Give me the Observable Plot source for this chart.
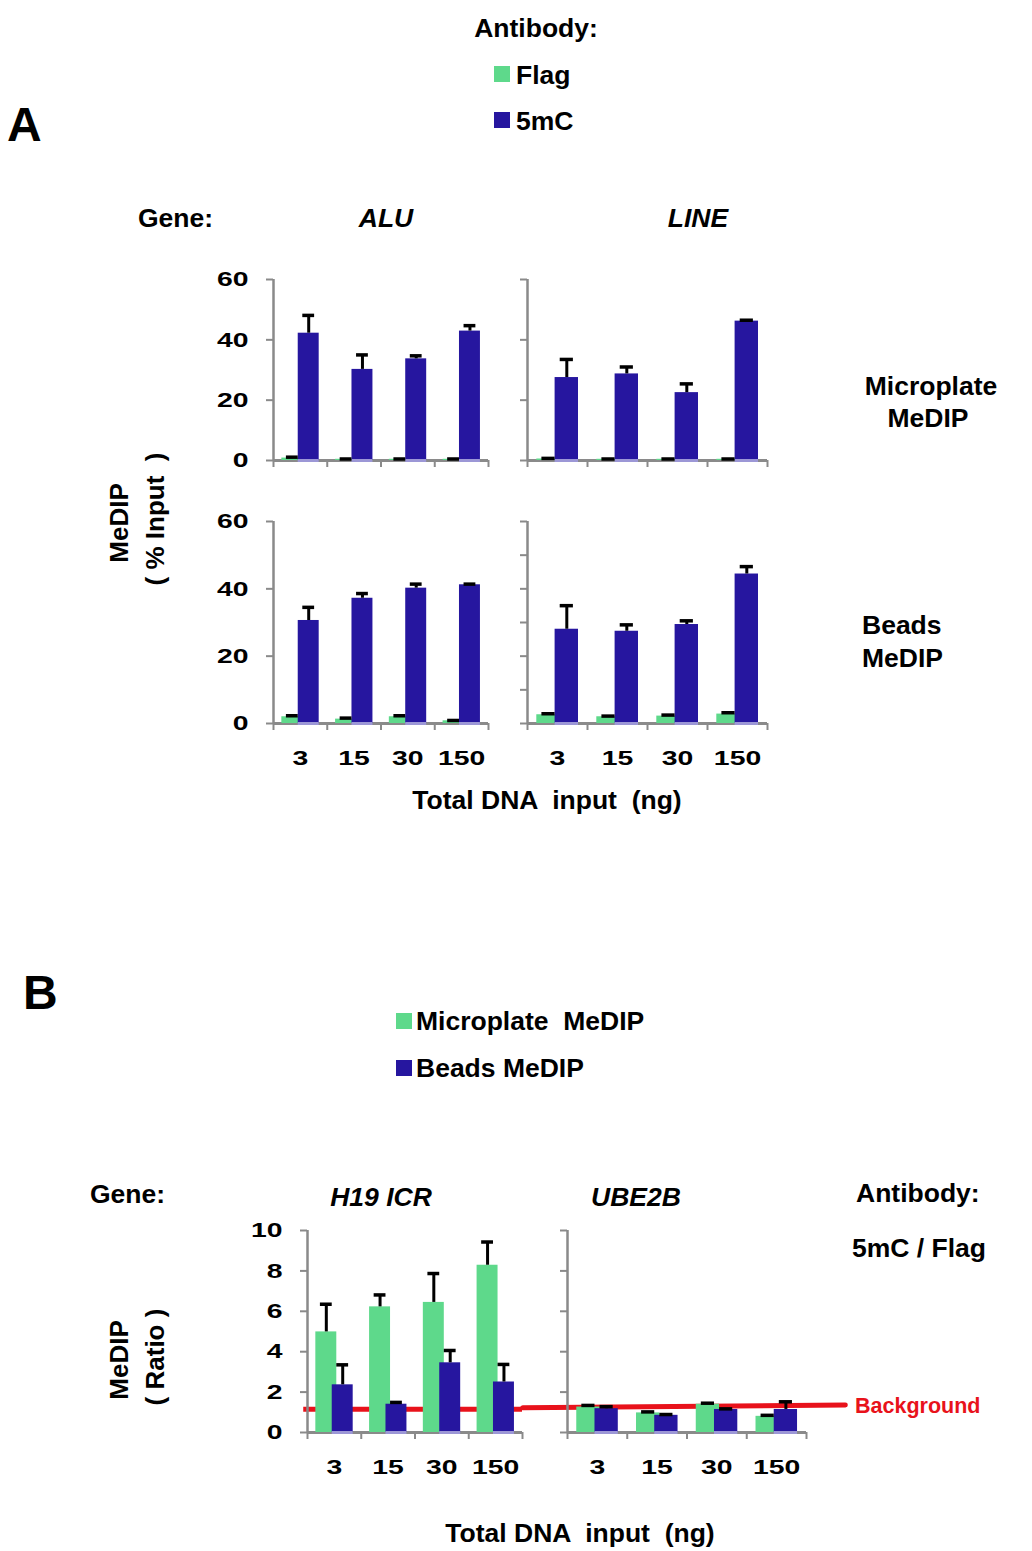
<!DOCTYPE html>
<html><head><meta charset="utf-8">
<script src="https://cdn.jsdelivr.net/npm/d3@7"></script>
<script src="https://cdn.jsdelivr.net/npm/@observablehq/plot@0.6"></script>
<style>
body{margin:0;background:#fff;}
#root{position:relative;width:1032px;height:1551px;overflow:hidden;font-family:"Liberation Sans",Arial,sans-serif;font-weight:bold;color:#000;background:#fff;}
.lbl{position:absolute;white-space:pre;line-height:1;}
.sw{position:absolute;width:16px;height:16px;}
</style></head><body><div id="root"></div>
<script>
// ---------- data ----------
const doses = ["3", "15", "30", "150"];

// Panel A: MeDIP (% input), antibody Flag vs 5mC
const aluMicroFlag     = [0.8, 0.4, 0.4, 0.4];
const aluMicroFlagErr  = [0.3, 0.1, 0.1, 0.1];
const aluMicro5mC      = [42.2, 30.2, 33.7, 42.9];
const aluMicro5mCErr   = [5.9, 4.8, 1.0, 1.8];
const lineMicroFlag    = [0.5, 0.4, 0.4, 0.4];
const lineMicroFlagErr = [0.2, 0.1, 0.1, 0.1];
const lineMicro5mC     = [27.5, 28.7, 22.5, 46.2];
const lineMicro5mCErr  = [6.0, 2.3, 2.9, 0.3];
const aluBeadsFlag     = [2.0, 1.3, 2.0, 0.8];
const aluBeadsFlagErr  = [0.3, 0.3, 0.3, 0.1];
const aluBeads5mC      = [30.6, 37.2, 40.2, 41.2];
const aluBeads5mCErr   = [3.9, 1.4, 1.2, 0.2];
const lineBeadsFlag    = [2.6, 2.0, 2.2, 2.8];
const lineBeadsFlagErr = [0.3, 0.2, 0.3, 0.4];
const lineBeads5mC     = [28.0, 27.4, 29.4, 44.4];
const lineBeads5mCErr  = [7.0, 1.9, 1.1, 2.2];

// Panel B: MeDIP ratio 5mC / Flag, Microplate vs Beads
const h19Micro       = [4.98, 6.22, 6.44, 8.28];
const h19MicroErr    = [1.37, 0.59, 1.43, 1.15];
const h19Beads       = [2.36, 1.40, 3.45, 2.50];
const h19BeadsErr    = [0.99, 0.09, 0.61, 0.87];
const ube2bMicro     = [1.26, 0.97, 1.40, 0.80];
const ube2bMicroErr  = [0.08, 0.05, 0.05, 0.05];
const ube2bBeads     = [1.18, 0.85, 1.14, 1.14];
const ube2bBeadsErr  = [0.10, 0.04, 0.03, 0.38];
const backgroundH19   = [1.15];
const backgroundUBE2B = [1.22, 1.36];  // start, end of the drawn background line

const yTicksA = [0, 20, 40, 60];
const yTicksAminor = [0, 10, 20, 30, 40, 50, 60];
const yTicksB = [0, 2, 4, 6, 8, 10];

// ---------- styles ----------
const GREEN = "#5ed98b", BLUE = "#26169f", AXIS = "#8a8a8a", RED = "#e8121b", BASE = "#9c97d6";
const root = document.getElementById("root");

function label(text, x, y, {anchor = "start", size = 26, italic = false, color = "#000", rotate = 0} = {}) {
  const d = document.createElement("div");
  d.className = "lbl";
  d.textContent = text;
  d.style.left = x + "px";
  d.style.top = y + "px";
  d.style.fontSize = size + "px";
  d.style.color = color;
  if (italic) d.style.fontStyle = "italic";
  const tx = anchor === "middle" ? "-50%" : anchor === "end" ? "-100%" : "0";
  d.style.transform = `translate(${tx},-50%)` + (rotate ? ` rotate(${rotate}deg)` : "");
  root.appendChild(d);
}
function swatch(color, x, y) {
  const d = document.createElement("div");
  d.className = "sw";
  d.style.left = x + "px"; d.style.top = y + "px"; d.style.background = color;
  root.appendChild(d);
}

function panel({left, top, width, height, ymax, yticks, ylabels, xlabels, series, bgRule, bgLine}) {
  const mL = 80, mR = 60, mT = 12, mB = 55;
  const hw = 0.195;
  const rows = [];
  series.forEach(s => s.values.forEach((v, i) => rows.push({i, v, e: s.err[i], c: i + s.center, color: s.color})));
  const green = rows.filter(d => d.color === GREEN);
  const blue = rows.filter(d => d.color === BLUE);
  const marks = [];
  if (bgRule) marks.push(Plot.ruleY(bgRule, {x1: () => -0.07, x2: () => doses.length, stroke: RED, strokeWidth: 5}));
  if (bgLine) marks.push(Plot.line(bgLine.map((v, k) => ({x: k === 0 ? -0.75 : doses.length + 0.65, y: v})), {x: "x", y: "y", stroke: RED, strokeWidth: 5}));
  marks.push(
    Plot.ruleY([0], {x1: () => 0, x2: () => doses.length, stroke: AXIS, strokeWidth: 3}),
    Plot.rect(green, {x1: d => d.c - hw, x2: d => d.c + hw, y1: () => 0, y2: "v", fill: GREEN}),
    Plot.rect(blue, {x1: d => d.c - hw, x2: d => d.c + hw, y1: () => 0, y2: "v", fill: BLUE}),
    Plot.ruleY(blue, {y: () => 0, x1: d => d.c - hw, x2: d => d.c + hw, stroke: BASE, strokeWidth: 3}),
    Plot.ruleX([0], {y1: () => 0, y2: () => ymax, stroke: AXIS, strokeWidth: 2.5}),
    Plot.axisY({ticks: yticks, tickSize: 7, color: AXIS, strokeWidth: 2, tickFormat: () => "", label: null}),
    Plot.axisX({ticks: d3.range(doses.length + 1), tickSize: 7, color: AXIS, strokeWidth: 2, tickFormat: () => "", label: null}),
    Plot.ruleX(rows, {x: "c", y1: "v", y2: d => d.v + d.e, stroke: "#000", strokeWidth: 3}),
    Plot.ruleY(rows, {y: d => d.v + d.e, x1: d => d.c - 0.11, x2: d => d.c + 0.11, stroke: "#000", strokeWidth: 3.5})
  );
  if (ylabels) marks.push(Plot.axisY({ticks: yticks, tickSize: 0, tickPadding: 25, color: "#000", fontSize: 21, fontWeight: "bold", label: null}));
  if (xlabels) marks.push(Plot.axisX({ticks: doses.map((d, i) => i + 0.5), tickSize: 0, tickPadding: 27, color: "#000", fontSize: 21, fontWeight: "bold", label: null, tickFormat: v => doses[Math.floor(v)]}));
  const svg = Plot.plot({
    width: width + mL + mR, height: height + mT + mB,
    marginLeft: mL, marginRight: mR, marginTop: mT, marginBottom: mB,
    x: {domain: [0, doses.length], axis: null, label: null},
    y: {domain: [0, ymax], axis: null, label: null},
    style: "font-family:'Liberation Sans',Arial,sans-serif;font-weight:bold;font-size:21px;color:#000;background:none;overflow:visible;",
    marks
  });
  // chart tick labels are horizontally stretched in the original
  svg.querySelectorAll('[aria-label="y-axis tick label"] text, [aria-label="x-axis tick label"] text').forEach(t => {
    const x = +(t.getAttribute("x") || 0);
    const cur = t.getAttribute("transform") || "";
    t.setAttribute("transform", `${cur} translate(${x},0) scale(1.35,1) translate(${-x},0)`);
  });
  svg.style.position = "absolute";
  svg.style.left = (left - mL) + "px";
  svg.style.top = (top - mT) + "px";
  root.appendChild(svg);
}

const C1 = 0.35, C2 = 0.655;
const S = (values, err, color, center) => ({values, err, color, center});

// ---------- Panel A ----------
label("Antibody:", 536, 28, {anchor: "middle", size: 26.5});
swatch(GREEN, 494, 66); label("Flag", 516, 75, {size: 26.5});
swatch(BLUE, 494, 112); label("5mC", 516, 121, {size: 26.5});
label("A", 7, 125, {size: 48});
label("Gene:", 138, 218, {size: 26.5});
label("ALU", 386, 218, {anchor: "middle", italic: true, size: 26.5});
label("LINE", 698, 218, {anchor: "middle", italic: true, size: 26.5});

panel({left: 273, top: 279, width: 215, height: 181, ymax: 60, yticks: yTicksA, ylabels: true, xlabels: false,
  series: [S(aluMicroFlag, aluMicroFlagErr, GREEN, C1), S(aluMicro5mC, aluMicro5mCErr, BLUE, C2)]});
panel({left: 527, top: 279, width: 240, height: 181, ymax: 60, yticks: yTicksA, ylabels: false, xlabels: false,
  series: [S(lineMicroFlag, lineMicroFlagErr, GREEN, C1), S(lineMicro5mC, lineMicro5mCErr, BLUE, C2)]});
panel({left: 273, top: 521, width: 215, height: 202, ymax: 60, yticks: yTicksA, ylabels: true, xlabels: true,
  series: [S(aluBeadsFlag, aluBeadsFlagErr, GREEN, C1), S(aluBeads5mC, aluBeads5mCErr, BLUE, C2)]});
panel({left: 527, top: 521, width: 240, height: 202, ymax: 60, yticks: yTicksAminor, ylabels: false, xlabels: true,
  series: [S(lineBeadsFlag, lineBeadsFlagErr, GREEN, C1), S(lineBeads5mC, lineBeads5mCErr, BLUE, C2)]});

label("Microplate", 931, 386, {anchor: "middle", size: 26.5});
label("MeDIP", 928, 418, {anchor: "middle", size: 26.5});
label("Beads", 862, 625, {size: 26.5});
label("MeDIP", 862, 658, {size: 26.5});
label("MeDIP", 119, 523, {anchor: "middle", rotate: -90});
label("( % Input  )", 155, 519, {anchor: "middle", rotate: -90});
label("Total DNA  input  (ng)", 547, 800, {anchor: "middle", size: 26.5});

// ---------- Panel B ----------
label("B", 23, 993, {size: 48});
swatch(GREEN, 396, 1013); label("Microplate  MeDIP", 416, 1021, {size: 26.5});
swatch(BLUE, 396, 1060); label("Beads MeDIP", 416, 1068, {size: 26.5});
label("Gene:", 90, 1194, {size: 26.5});
label("H19 ICR", 381, 1197, {anchor: "middle", italic: true, size: 26.5});
label("UBE2B", 636, 1197, {anchor: "middle", italic: true, size: 26.5});
label("Antibody:", 856, 1193, {size: 26.5});
label("5mC / Flag", 852, 1248, {size: 26.5});

panel({left: 307, top: 1230, width: 215, height: 202, ymax: 10, yticks: yTicksB, ylabels: true, xlabels: true, bgRule: backgroundH19,
  series: [S(h19Micro, h19MicroErr, GREEN, C1), S(h19Beads, h19BeadsErr, BLUE, C2)]});
panel({left: 567, top: 1230, width: 239, height: 202, ymax: 10, yticks: yTicksB, ylabels: false, xlabels: true, bgLine: backgroundUBE2B,
  series: [S(ube2bMicro, ube2bMicroErr, GREEN, C1), S(ube2bBeads, ube2bBeadsErr, BLUE, C2)]});

label("Background", 855, 1407, {size: 21.5, color: RED});
label("MeDIP", 119, 1360, {anchor: "middle", rotate: -90});
label("( Ratio )", 155, 1357, {anchor: "middle", rotate: -90});
label("Total DNA  input  (ng)", 580, 1533, {anchor: "middle", size: 26.5});
</script></body></html>
